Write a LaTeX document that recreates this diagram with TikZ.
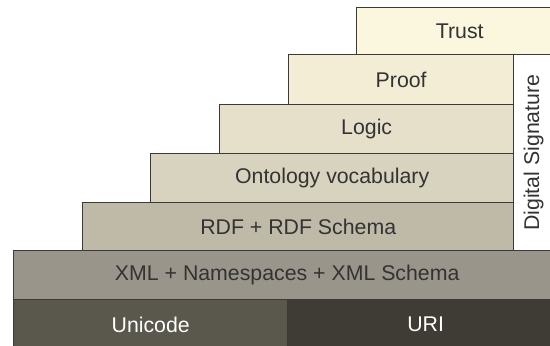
\documentclass[tikz,border=0pt]{standalone}
\usepackage{fontspec}
\setmainfont{Liberation Sans}
\definecolor{cTrust}{HTML}{FBF6DE}
\definecolor{cProof}{HTML}{F3EDD6}
\definecolor{cLogic}{HTML}{E6E0CA}
\definecolor{cOnto}{HTML}{D8D3BE}
\definecolor{cRDF}{HTML}{BFB9A8}
\definecolor{cXML}{HTML}{9A958A}
\definecolor{cUni}{HTML}{5A574C}
\definecolor{cURI}{HTML}{3F3C35}
\definecolor{cEdge}{HTML}{3A3A38}
\definecolor{cTxt}{HTML}{333333}
\begin{document}
\begin{tikzpicture}[x=1pt,y=-1pt,
  layer/.style={draw=cEdge,line width=1.4pt,anchor=north west,inner sep=0pt,
    font=\fontsize{21.3}{24}\selectfont,text=cTxt},
  darklayer/.style={layer,text=white}]
\useasboundingbox (0,0) rectangle (550,346);
\node[layer,fill=cTrust,minimum width=206,minimum height=47] (trust) at (356,7) {Trust};
\node[layer,fill=white,minimum width=40,minimum height=196] (sig) at (513,54) {};
\node[rotate=90,font=\fontsize{21.3}{24}\selectfont,text=cTxt] (sigt) at (sig.center) {Digital Signature};
\node[layer,fill=cProof,minimum width=225,minimum height=50] (proof) at (288,54) {Proof};
\node[layer,fill=cLogic,minimum width=294,minimum height=49] (logic) at (219,104) {Logic};
\node[layer,fill=cOnto,minimum width=363,minimum height=49] (onto) at (150,153) {Ontology vocabulary};
\node[layer,fill=cRDF,minimum width=431,minimum height=48] (rdf) at (82,202) {RDF + RDF Schema};
\node[layer,fill=cXML,minimum width=547,minimum height=49] (xml) at (13,250) {XML + Namespaces + XML Schema};
\node[darklayer,fill=cUni,minimum width=274,minimum height=50] (uni) at (13,299) {Unicode};
\node[darklayer,fill=cURI,minimum width=276,minimum height=50] (uri) at (287,299) {URI};
\end{tikzpicture}
\end{document}
